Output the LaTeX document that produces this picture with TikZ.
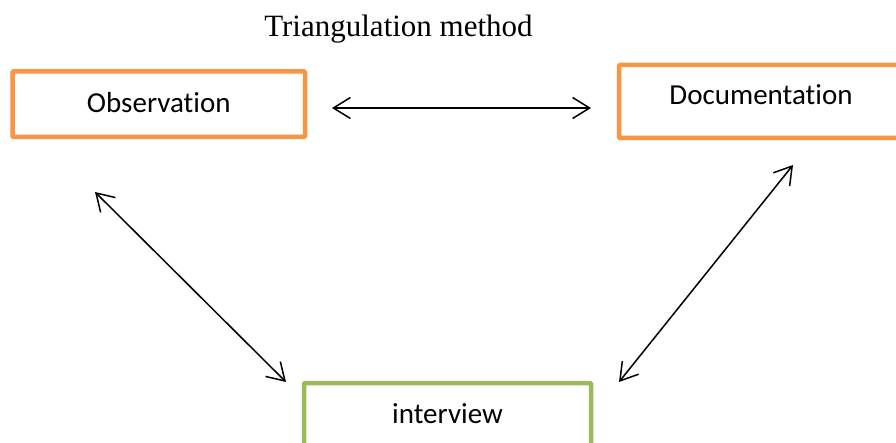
\documentclass[tikz,border=0pt]{standalone}
\usepackage{fontspec}
\setmainfont{Liberation Serif}
\newfontfamily\calfont[Ligatures=NoCommon]{Carlito}
\usetikzlibrary{arrows.meta}
\definecolor{boxorange}{HTML}{F79646}
\definecolor{boxgreen}{HTML}{9BBB59}
\begin{document}
\begin{tikzpicture}[x=1pt,y=-1pt,
  box/.style={draw,line width=4.5pt,rounded corners=1pt,inner sep=0pt},
  lbl/.style={font=\calfont\fontsize{29}{34}\selectfont,anchor=base,inner sep=0pt},
  link/.style={line width=1.5pt,{Straight Barb[length=17pt,width=21pt,line width=1.5pt]}-{Straight Barb[length=17pt,width=21pt,line width=1.5pt]}}]
\useasboundingbox (0,0) rectangle (896,443);
\clip (0,0) rectangle (896,443);
\fill[white] (0,0) rectangle (896,443);
\node[font=\fontsize{31}{36}\selectfont,anchor=base,inner sep=0pt] (title) at (398.5,37) {Triangulation method};
\node[box,draw=boxorange,minimum width=292.5pt,minimum height=65.5pt] (obs) at (158.75,104.25) {};
\node[box,draw=boxorange,minimum width=284pt,minimum height=73pt] (doc) at (761,101.5) {};
\node[box,draw=boxgreen,minimum width=287pt,minimum height=64pt] (int) at (447.5,415) {};
\node[lbl] (obsT) at (158.75,113) {Observation};
\node[lbl] (docT) at (761,105) {Documentation};
\node[lbl] (intT) at (447.5,423) {interview};
\coordinate (h1) at (332,108);
\coordinate (h2) at (591,108);
\coordinate (l1) at (95,192);
\coordinate (l2) at (286,382);
\coordinate (r1) at (793,165);
\coordinate (r2) at (619,382);
\draw[link] (h1) -- (h2);
\draw[link] (l1) -- (l2);
\draw[link] (r1) -- (r2);
\end{tikzpicture}
\end{document}
